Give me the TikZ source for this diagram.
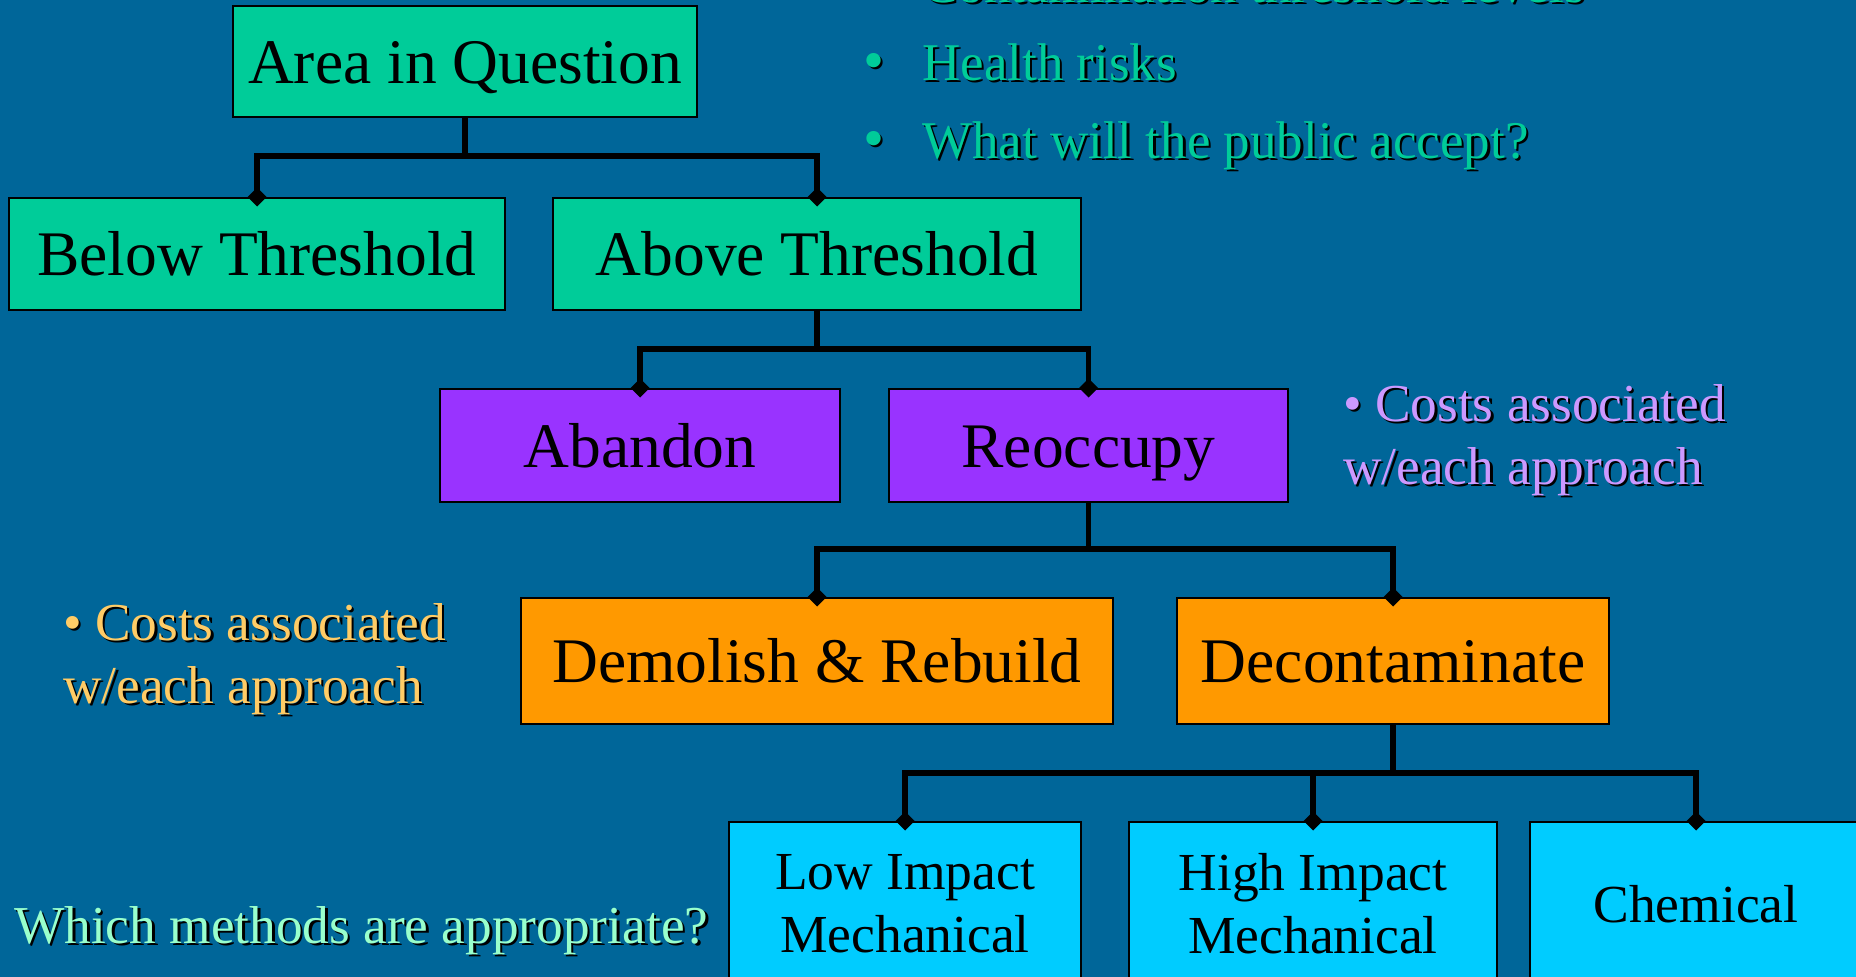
\documentclass[tikz,border=0pt]{standalone}
\usepackage{fontspec}
\setmainfont{Liberation Serif}
\usetikzlibrary{arrows.meta}
\definecolor{bgblue}{RGB}{0,102,153}
\definecolor{boxgreen}{RGB}{0,204,153}
\definecolor{boxpurple}{RGB}{153,51,255}
\definecolor{boxorange}{RGB}{255,153,0}
\definecolor{boxcyan}{RGB}{0,204,255}
\definecolor{notepurple}{RGB}{204,153,255}
\definecolor{noteorange}{RGB}{255,204,102}
\definecolor{notemint}{RGB}{153,255,204}
\newcommand{\shad}[1]{\rlap{\hspace{2.5pt}\raisebox{-2.5pt}{\color{black}#1}}#1}
\tikzset{
	box/.style={draw=black,line width=2pt,inner sep=0pt,text height=43pt,text depth=0pt,font=\fontsize{63.5}{63.5}\selectfont},
	lowbox/.style={draw=black,line width=2pt,inner sep=0pt,align=center,font=\fontsize{53.5}{63}\selectfont},
	link/.style={line width=5.5pt,-{Diamond[width=19pt,length=19pt]},shorten >=-9.5pt},
	note/.style={anchor=base west,align=left,inner sep=0pt,font=\fontsize{53.3}{63}\selectfont}
}
\begin{document}
\begin{tikzpicture}[x=1pt,y=-1pt]
			\useasboundingbox[fill=bgblue] (0,0) rectangle (1856,977);
			% boxes
			\node[box,fill=boxgreen,minimum width=464pt,minimum height=111pt] (area) at (465,61.5) {Area in Question};
			\node[box,fill=boxgreen,minimum width=496pt,minimum height=112pt] (below) at (257,254) {Below Threshold};
			\node[box,fill=boxgreen,minimum width=528pt,minimum height=112pt] (above) at (817,254) {Above Threshold};
			\node[box,fill=boxpurple,minimum width=400pt,minimum height=113pt] (abandon) at (640,445.5) {Abandon};
			\node[box,fill=boxpurple,minimum width=399pt,minimum height=113pt] (reoccupy) at (1088.5,445.5) {Reoccupy};
			\node[box,fill=boxorange,minimum width=592pt,minimum height=126pt] (demolish) at (817,661) {Demolish \& Rebuild};
			\node[box,fill=boxorange,minimum width=432pt,minimum height=126pt] (decon) at (1393,661) {Decontaminate};
			\node[lowbox,fill=boxcyan,minimum width=352pt,minimum height=164pt] (lowmech) at (905,904) {Low Impact\\Mechanical};
			\node[lowbox,fill=boxcyan,minimum width=368pt,minimum height=164pt] (highmech) at (1313,904) {High Impact\\Mechanical};
			\node[lowbox,fill=boxcyan,minimum width=332pt,minimum height=164pt] (chem) at (1696,904) {Chemical};
			% connectors
			\path (0,156)coordinate(bar1) (0,349)coordinate(bar2) (0,549)coordinate(bar3) (0,773)coordinate(bar4);
			\draw[link] (area.south)--(area.south|-bar1)-|(below.north);
			\draw[link] (area.south)--(area.south|-bar1)-|(above.north);
			\draw[link] (above.south)--(above.south|-bar2)-|(abandon.north);
			\draw[link] (above.south)--(above.south|-bar2)-|(reoccupy.north);
			\draw[link] (reoccupy.south)--(reoccupy.south|-bar3)-|(demolish.north);
			\draw[link] (reoccupy.south)--(reoccupy.south|-bar3)-|(decon.north);
			\draw[link] (decon.south)--(decon.south|-bar4)-|(lowmech.north);
			\draw[link] (decon.south)--(decon.south|-bar4)-|(highmech.north);
			\draw[link] (decon.south)--(decon.south|-bar4)-|(chem.north);
			% notes (base = last line)
			\node[note,text=boxgreen,font=\fontsize{53}{78}\selectfont] (criteria) at (863,158) {\shad{\makebox[59pt][l]{\fontsize{60}{78}\selectfont•}Contamination threshold levels}\\\shad{\makebox[59pt][l]{\fontsize{60}{78}\selectfont•}Health risks}\\\shad{\makebox[59pt][l]{\fontsize{60}{78}\selectfont•}What will the public accept?}};
			\node[note,text=notepurple] (costsup) at (1343,484) {\shad{• Costs associated}\\\shad{w/each approach}};
			\node[note,text=noteorange] (costsdown) at (63,703) {\shad{• Costs associated}\\\shad{w/each approach}};
			\node[note,text=notemint] (methods) at (14,943) {\shad{Which methods are appropriate?}};
	\end{tikzpicture}
\end{document}
